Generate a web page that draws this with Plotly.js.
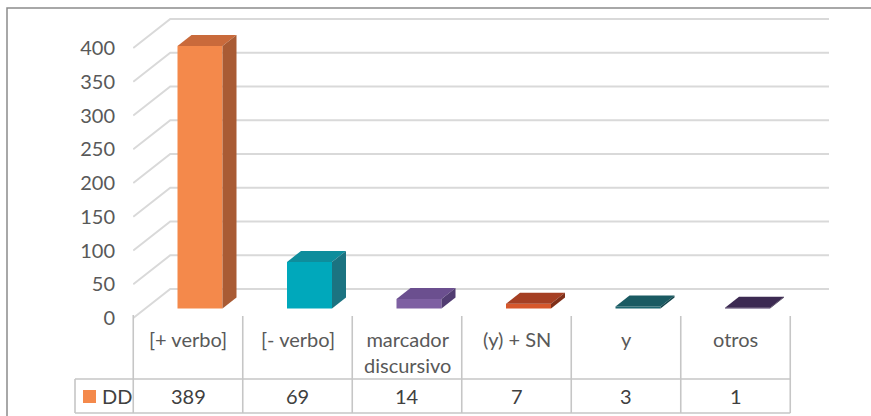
<!DOCTYPE html>
<html>
<head>
<meta charset="utf-8">
<script src="https://cdn.plot.ly/plotly-3.0.1.min.js"></script>
<style>
  html, body { margin: 0; padding: 0; background: #ffffff; }
  #chart { width: 871px; height: 416px; }
</style>
</head>
<body>
<div id="chart"></div>
<script>
// ---- data ----
const categories = ["[+ verbo]", "[- verbo]", "marcador<br>discursivo", "(y) + SN", "y", "otros"];
const seriesName = "DD";
const values = [389, 69, 14, 7, 3, 1];
const yTicks = [0, 50, 100, 150, 200, 250, 300, 350, 400];

// ---- styles ----
const frontColors = ["#F4894B", "#00A8BB", "#7E60A2", "#D6572B", "#1E6670", "#44305E"];
const topColors   = ["#C96A3B", "#0E8D9C", "#6B4F8F", "#A53F23", "#1A5A62", "#3C2A52"];
const sideColors  = ["#A95B34", "#1B7381", "#523D72", "#7F2F19", "#12444B", "#2C1F3D"];
const textColor = "#595959";
const gridColor = "#D9D9D9";
const tableColor = "#C6C6C6";
const FONT = "Lato, 'Open Sans', sans-serif";
const FS = 20;

// ---- geometry (pixel-based scale for 3D offsets) ----
const W = 871, H = 416;
const plotLeft = 133;
const colW = 109.5;          // px per category
const col0 = 188;            // px of category 0 center
const pxPerUnit = 0.675;     // px per value unit
const zeroPx = 318;          // px of value 0 on the front plane
const xRange = [(plotLeft - col0) / colW, (W - col0) / colW];
const yRange = [(zeroPx - H) / pxPerUnit, zeroPx / pxPerUnit];
const dx = px => px / colW;
const dy = px => px / pxPerUnit;

const backDX = dx(37), backDY = dy(29);      // back wall offset
const barShift = dx(12), barBase = dy(9.5);  // bar plane offset
const barW = dx(45);
const depDX = dx(14), depDY = dy(11);        // bar depth
const gridRight = (829 - col0) / colW;
const leftEdge = -0.5;

const xs = values.map((v, i) => i + barShift);

const traces = [];
traces.push({
  type: "bar", x: xs, y: values, base: values.map(() => barBase), width: barW,
  marker: { color: frontColors, line: { width: 0 } }, hoverinfo: "skip", showlegend: false
});
values.forEach((v, i) => {
  const x0 = xs[i] - barW / 2, x1 = xs[i] + barW / 2;
  const t = barBase + v, b = barBase;
  // top face
  traces.push({
    type: "scatter", mode: "lines", fill: "toself", fillcolor: topColors[i],
    line: { width: 0, color: topColors[i] }, hoverinfo: "skip", showlegend: false,
    x: [x0, x1, x1 + depDX, x0 + depDX, x0],
    y: [t, t, t + depDY, t + depDY, t]
  });
  // side face
  traces.push({
    type: "scatter", mode: "lines", fill: "toself", fillcolor: sideColors[i],
    line: { width: 0, color: sideColors[i] }, hoverinfo: "skip", showlegend: false,
    x: [x1, x1, x1 + depDX, x1 + depDX, x1],
    y: [b, t, t + depDY, b + depDY, b]
  });
});

const shapes = [];
// back wall gridlines with left diagonal
yTicks.forEach(v => {
  shapes.push({ type: "path", layer: "below", xref: "x", yref: "y",
    path: `M${leftEdge},${v} L${leftEdge + backDX},${v + backDY} L${gridRight},${v + backDY}`,
    line: { color: gridColor, width: 2 } });
});

// data table
const toPaperX = x => (x - xRange[0]) / (xRange[1] - xRange[0]);
const pxToPaperX = px => (px - plotLeft) / (W - plotLeft);
const pyToPaper = py => (H - py) / H;
const tblTop = 316, rowLine = 379, tblBottom = 413, legLeft = 75;
for (let i = 0; i <= categories.length; i++) {
  const xp = toPaperX(i - 0.5);
  shapes.push({ type: "line", xref: "paper", yref: "paper", x0: xp, x1: xp,
    y0: pyToPaper(i === 0 ? 315 : tblTop), y1: pyToPaper(tblBottom),
    line: { color: tableColor, width: 1.6 } });
}
shapes.push({ type: "line", xref: "paper", yref: "paper",
  x0: pxToPaperX(legLeft), x1: pxToPaperX(legLeft), y0: pyToPaper(rowLine), y1: pyToPaper(tblBottom),
  line: { color: tableColor, width: 1.6 } });
[rowLine, tblBottom].forEach(py => {
  shapes.push({ type: "line", xref: "paper", yref: "paper",
    x0: pxToPaperX(legLeft), x1: toPaperX(categories.length - 0.5), y0: pyToPaper(py), y1: pyToPaper(py),
    line: { color: tableColor, width: 1.6 } });
});
// legend key square
shapes.push({ type: "rect", xref: "paper", yref: "paper",
  x0: pxToPaperX(83), x1: pxToPaperX(96), y0: pyToPaper(390), y1: pyToPaper(403),
  fillcolor: frontColors[0], line: { width: 0 } });
// chart border (left & top)
shapes.push({ type: "path", xref: "paper", yref: "paper",
  path: `M${pxToPaperX(7)},0 L${pxToPaperX(7)},${pyToPaper(8)} L${pxToPaperX(W + 5)},${pyToPaper(8)}`,
  line: { color: "#8C8C8C", width: 1.5 } });

const annotations = [];
categories.forEach((c, i) => {
  annotations.push({ xref: "x", yref: "paper", x: i, y: pyToPaper(325), yanchor: "top", xanchor: "center",
    text: c, showarrow: false, font: { family: FONT, size: FS, color: textColor } });
  annotations.push({ xref: "x", yref: "paper", x: i, y: pyToPaper(396), yanchor: "middle", xanchor: "center",
    text: String(values[i]), showarrow: false, font: { family: FONT, size: FS, color: "#404040" } });
});
annotations.push({ xref: "paper", yref: "paper", x: pxToPaperX(100), y: pyToPaper(396),
  xanchor: "left", yanchor: "middle", text: seriesName, showarrow: false,
  font: { family: FONT, size: FS, color: "#404040" } });

const layout = {
  width: W, height: H,
  margin: { l: plotLeft, r: 0, t: 0, b: 0, pad: 0 },
  paper_bgcolor: "#ffffff", plot_bgcolor: "rgba(0,0,0,0)",
  showlegend: false,
  xaxis: { range: xRange, visible: false, fixedrange: true },
  yaxis: { range: yRange, tickvals: yTicks, ticktext: yTicks.map(String),
    showgrid: false, zeroline: false, showline: false, ticks: "",
    ticklabelstandoff: 17,
    tickfont: { family: FONT, size: FS, color: textColor }, fixedrange: true },
  shapes: shapes, annotations: annotations,
  font: { family: FONT }
};

Plotly.newPlot("chart", traces, layout, { staticPlot: true, displayModeBar: false });
</script>
</body>
</html>
